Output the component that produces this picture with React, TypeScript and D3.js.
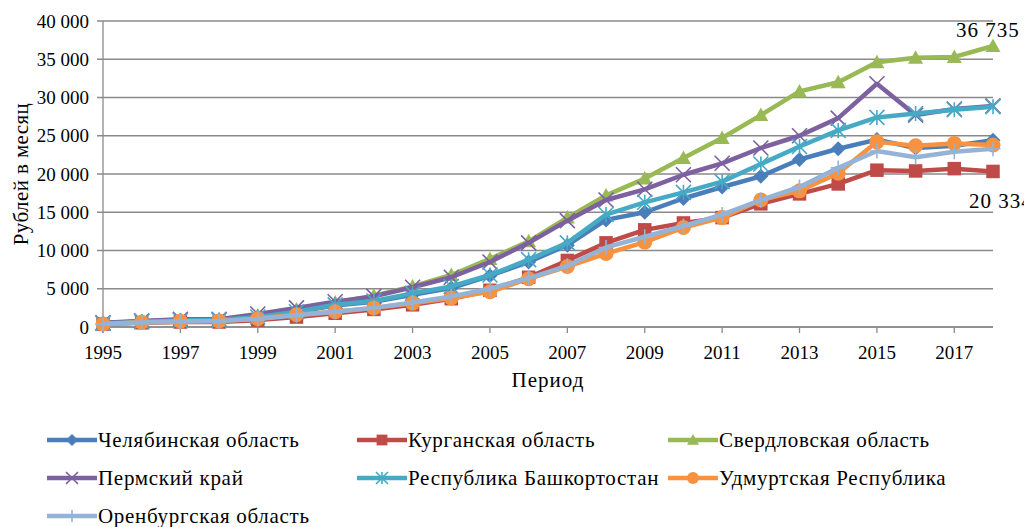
import React from 'react';
import * as d3 from 'd3';

const years = [1995, 1996, 1997, 1998, 1999, 2000, 2001, 2002, 2003, 2004, 2005, 2006, 2007, 2008, 2009, 2010, 2011, 2012, 2013, 2014, 2015, 2016, 2017, 2018];
const xTickYears = [1995, 1997, 1999, 2001, 2003, 2005, 2007, 2009, 2011, 2013, 2015, 2017];
const yTicks = [0, 5000, 10000, 15000, 20000, 25000, 30000, 35000, 40000];

const chelyabinsk = [480, 720, 880, 900, 1300, 2000, 2800, 3300, 4200, 5100, 6700, 8500, 10700, 14000, 15000, 16800, 18300, 19700, 21900, 23300, 24500, 23400, 23700, 24400];
const kurgan = [380, 550, 650, 650, 900, 1300, 1800, 2300, 2900, 3700, 4800, 6500, 8700, 11000, 12700, 13600, 14300, 16100, 17400, 18700, 20500, 20400, 20700, 20334];
const sverdlovsk = [500, 750, 900, 950, 1500, 2300, 3200, 4100, 5300, 6800, 8900, 11200, 14300, 17200, 19400, 22100, 24700, 27700, 30800, 32000, 34600, 35200, 35300, 36735];
const perm = [550, 800, 1000, 1000, 1700, 2500, 3300, 4000, 5200, 6500, 8500, 11000, 13900, 16600, 18000, 19900, 21400, 23400, 25000, 27300, 31800, 27700, 28500, 28900];
const bashkortostan = [450, 700, 850, 900, 1300, 2000, 2900, 3400, 4400, 5300, 6800, 8800, 11000, 14700, 16300, 17600, 19000, 21300, 23600, 25700, 27400, 27900, 28400, 28800];
const udmurtia = [400, 620, 750, 800, 1100, 1600, 2000, 2500, 3100, 3800, 4600, 6300, 7900, 9600, 11100, 13000, 14300, 16600, 17800, 20100, 24200, 23700, 24000, 23800];
const orenburg = [380, 600, 720, 780, 1050, 1550, 2000, 2500, 3200, 4000, 5000, 6400, 8000, 10400, 11800, 13200, 14700, 16600, 18300, 20800, 23000, 22200, 22900, 23300];

const seriesNames = ['Челябинская область', 'Курганская область', 'Свердловская область', 'Пермский край', 'Республика Башкортостан', 'Удмуртская Республика', 'Оренбургская область'];
const seriesValues = [chelyabinsk, kurgan, sverdlovsk, perm, bashkortostan, udmurtia, orenburg];
const seriesColors = ['#4A7EBB', '#BE4B48', '#98B954', '#7D60A0', '#46AAC5', '#F69240', '#95B3D7'];
const seriesMarkers = ['diamond', 'square', 'triangle', 'x', 'star', 'circle', 'plus'];

const annotations = [
  { text: '36 735', year: 2018, value: 36735 },
  { text: '20 334', year: 2018, value: 20334 },
];

const FONT = "'Liberation Serif', 'Times New Roman', serif";

function Marker({ type, x, y, color, s }: { type: string; x: number; y: number; color: string; s: number }) {
  const r = s / 2;
  switch (type) {
    case 'diamond':
      return <path d={`M${x},${y - r}L${x + r},${y}L${x},${y + r}L${x - r},${y}Z`} fill={color} />;
    case 'square':
      return <rect x={x - r * 0.9} y={y - r * 0.9} width={r * 1.8} height={r * 1.8} fill={color} />;
    case 'triangle':
      return <path d={`M${x},${y - r}L${x + r},${y + r * 0.8}L${x - r},${y + r * 0.8}Z`} fill={color} />;
    case 'circle':
      return <circle cx={x} cy={y} r={r} fill={color} />;
    case 'x':
      return (
        <path d={`M${x - r},${y - r}L${x + r},${y + r}M${x - r},${y + r}L${x + r},${y - r}`} stroke={color} strokeWidth={1.6} fill="none" />
      );
    case 'star':
      return (
        <path
          d={`M${x - r},${y - r}L${x + r},${y + r}M${x - r},${y + r}L${x + r},${y - r}M${x},${y - r}L${x},${y + r}`}
          stroke={color}
          strokeWidth={1.6}
          fill="none"
        />
      );
    case 'plus':
      return <path d={`M${x - r},${y}L${x + r},${y}M${x},${y - r}L${x},${y + r}`} stroke={color} strokeWidth={1.6} fill="none" />;
    default:
      return null;
  }
}

export default function App() {
  const width = 1024;
  const height = 527;
  const x = d3.scaleLinear().domain([years[0], years[years.length - 1]]).range([103, 993]);
  const y = d3.scaleLinear().domain([0, 40000]).range([327, 21]);
  const fmt = (v: number) => d3.format(',')(v).replace(/,/g, ' ');
  const line = d3
    .line<number>()
    .x((_, i) => x(years[i]))
    .y((d) => y(d));

  const legendCols = [47, 357, 668];
  const legendRows = [440, 478, 516];

  return (
    <svg width={width} height={height} style={{ position: 'absolute', left: 0, top: 0, background: '#fff', fontFamily: FONT }}>
      <rect width={width} height={height} fill="#fff" />
      {yTicks.map((t) => (
        <line key={t} x1={97} x2={993} y1={y(t)} y2={y(t)} stroke="#8A8A8A" strokeWidth={1.3} />
      ))}
      <line x1={103} x2={103} y1={y(40000)} y2={y(0) + 6} stroke="#8A8A8A" strokeWidth={1.3} />
      <line x1={103} x2={993} y1={y(0)} y2={y(0)} stroke="#8A8A8A" strokeWidth={1.3} />
      {xTickYears.map((t) => (
        <line key={t} x1={x(t)} x2={x(t)} y1={y(0)} y2={y(0) + 6} stroke="#8A8A8A" strokeWidth={1.3} />
      ))}
      {yTicks.map((t) => (
        <text key={t} x={89} y={y(t)} textAnchor="end" dominantBaseline="central" fontSize={19} fill="#000">
          {fmt(t)}
        </text>
      ))}
      {xTickYears.map((t) => (
        <text key={t} x={x(t)} y={352} textAnchor="middle" dominantBaseline="central" fontSize={19} fill="#000">
          {t}
        </text>
      ))}
      <text transform="translate(21,174) rotate(-90)" textAnchor="middle" dominantBaseline="central" fontSize={21} letterSpacing={0.4} fill="#000">
        Рублей в месяц
      </text>
      <text x={548} y={380} textAnchor="middle" dominantBaseline="central" fontSize={21} letterSpacing={1} fill="#000">
        Период
      </text>
      {seriesValues.map((vals, si) => (
        <g key={si}>
          <path d={line(vals) || ''} fill="none" stroke={seriesColors[si]} strokeWidth={4.5} strokeLinejoin="round" />
          {vals.map((v, i) => (
            <Marker key={i} type={seriesMarkers[si]} x={x(years[i])} y={y(v)} color={seriesColors[si]} s={15} />
          ))}
        </g>
      ))}
      <text x={956} y={37} fontSize={21} letterSpacing={1} fill="#000">
        {annotations[0].text}
      </text>
      <text x={969} y={208} fontSize={21} letterSpacing={1} fill="#000">
        {annotations[1].text}
      </text>
      {seriesNames.map((name, si) => {
        const cx = legendCols[si % 3];
        const cy = legendRows[Math.floor(si / 3)];
        return (
          <g key={name}>
            <line x1={cx} x2={cx + 50} y1={cy} y2={cy} stroke={seriesColors[si]} strokeWidth={4.5} />
            <Marker type={seriesMarkers[si]} x={cx + 25} y={cy} color={seriesColors[si]} s={12} />
            <text x={cx + 51} y={cy} dominantBaseline="central" fontSize={21} letterSpacing={0.7} fill="#000">
              {name}
            </text>
          </g>
        );
      })}
    </svg>
  );
}
